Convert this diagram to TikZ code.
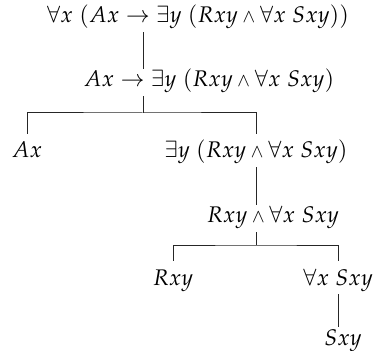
\documentclass[tikz,border=0pt]{standalone}
\usepackage{amsmath,amssymb}
\usepackage{mathpazo}
\usetikzlibrary{positioning,calc}
\newcommand{\sland}{\mathbin{\scalebox{0.8}{$\wedge$}}}

\begin{document}
\begin{tikzpicture}[
  x=0.5pt,y=-0.5pt,
  fml/.style={anchor=base,inner sep=2pt,text height=0.7em,text depth=0.25em,
              font=\fontsize{11.3}{14}\selectfont},
  br/.style={line width=0.5pt,draw=black!85}]
\useasboundingbox (0,0) rectangle (378,351);
\node[fml] (top) at (198,23) {$\forall x\;(Ax\to\exists y\;(Rxy\sland\forall x\;Sxy))$};
\node[fml] (imp) at (209,87) {$Ax\to\exists y\;(Rxy\sland\forall x\;Sxy)$};
\node[fml] (ax) at (27,158) {$Ax$};
\node[fml] (ex) at (256,158) {$\exists y\;(Rxy\sland\forall x\;Sxy)$};
\node[fml] (conj) at (273,223) {$Rxy\sland\forall x\;Sxy$};
\node[fml] (rxy) at (173,285) {$Rxy$};
\node[fml] (all) at (338,285) {$\forall x\;Sxy$};
\node[fml] (sxy) at (343,345) {$Sxy$};
\coordinate (k1) at (143,113);
\coordinate (k2) at (256,245);
\draw[br] (top.south -| k1)--(imp.north -| k1);
\draw[br] (imp.south -| k1)--(k1);
\draw[br] ([yshift=3pt]ax.north) |- (k1) -| ([yshift=3pt]ex.north);
\draw[br] (ex.south)--(ex.south |- conj.north);
\draw[br] (conj.south -| k2)--(k2);
\draw[br] ([yshift=3pt]rxy.north) |- (k2) -| ([yshift=3pt]all.north);
\draw[br] (all.south)--(all.south |- sxy.north);
\end{tikzpicture}
\end{document}
